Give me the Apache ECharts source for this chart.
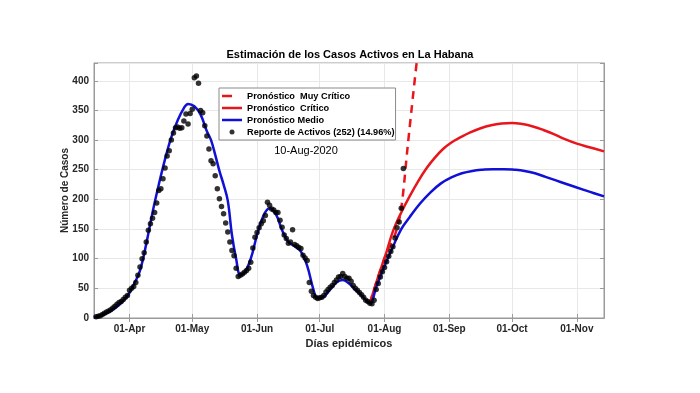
<!DOCTYPE html>
<html><head><meta charset="utf-8">
<script src="https://cdn.jsdelivr.net/npm/echarts@6/dist/echarts.min.js"></script>
<style>html,body{margin:0;padding:0;background:#fff}#c{width:700px;height:393px}</style>
</head><body><div id="c"></div>
<script>
// ---- axis range and ticks ----
const axisStart = '2020-03-15';
const axisEnd = '2020-11-14';
const monthNames = ['Jan','Feb','Mar','Apr','May','Jun','Jul','Aug','Sep','Oct','Nov','Dec'];
const yTickValues = [0, 50, 100, 150, 200, 250, 300, 350, 400];
const yMax = 430;

// ---- daily reported active cases (from 2020-03-16) ----
const reportStart = '2020-03-16';
const reportValues = [
  2, 3, 4, 6, 8, 10, 12, 14, 17, 20, 23, 26, 28, 31, 35, 38,
  47, 50, 53, 60, 72, 86, 100, 110, 128, 148, 159, 168, 178, 194, 215, 218,
  235, 253, 273, 282, 300, 312, 321, 322, 320, 321, 332, 344, 327, 345,
  352, 405, 408, 396, 350, 346, 324, 307, 285, 265, 260, 240, 218, 201,
  188, 176, 160, 145, 128, 114, 105, 84, 70, 72, 74, 77, 80, 84, 94, 118, 136,
  144, 152, 159, 164, 173, 195, 190, 184, 182, 178, 178, 165, 153, 140, 134,
  126, 128, 149, 124, 122, 119, 117, 106, 101, 97, 60, 45, 38, 35, 33,
  34, 35, 38, 44, 48, 52, 55, 60, 64, 69, 70, 75, 70, 67, 67, 62, 55, 50,
  47, 43, 39, 35, 30, 28, 25, 24, 30, 48, 58, 69, 78,
  85, 95, 104, 112, 120, 135, 152, 162, 185, 252
];

// ---- Pronóstico Medio (blue) ----
const medioDates = [
  '2020-03-15','2020-03-19','2020-03-23','2020-03-27','2020-03-31','2020-04-03','2020-04-06',
  '2020-04-09','2020-04-12','2020-04-15','2020-04-18','2020-04-21','2020-04-24','2020-04-27',
  '2020-04-29','2020-05-02','2020-05-05','2020-05-08','2020-05-10','2020-05-12','2020-05-14',
  '2020-05-16','2020-05-18','2020-05-20','2020-05-22','2020-05-24','2020-05-26','2020-05-29',
  '2020-06-01','2020-06-04','2020-06-07','2020-06-10','2020-06-13','2020-06-16','2020-06-19',
  '2020-06-22','2020-06-25','2020-06-28','2020-06-30','2020-07-03','2020-07-06','2020-07-09',
  '2020-07-12','2020-07-15','2020-07-18','2020-07-21','2020-07-25',
  '2020-07-28','2020-08-01','2020-08-05','2020-08-09','2020-08-13','2020-08-18','2020-08-23',
  '2020-08-28','2020-09-02','2020-09-07','2020-09-12','2020-09-17','2020-09-22','2020-09-27',
  '2020-10-02','2020-10-07','2020-10-12','2020-10-17','2020-10-22','2020-10-27','2020-11-01',
  '2020-11-07','2020-11-14'
];
const medioValues = [
  1, 5, 12, 22, 37, 56, 80,
  125, 178, 225, 268, 305, 333, 354,
  361, 357, 343, 315, 300, 275, 248,
  225, 198, 140, 100, 73, 76, 100,
  140, 172, 185, 175, 148, 128, 121,
  112, 88, 48, 33, 36, 48, 60,
  64, 58, 48, 38, 25,
  52, 88, 120, 150, 170, 193, 212,
  227, 237, 244, 248, 250, 251, 251,
  250, 248, 244, 238, 232, 226, 220,
  213, 205
];

// ---- Pronóstico Crítico (red) ----
const criticoDates = [
  '2020-07-25','2020-07-29','2020-08-02','2020-08-05','2020-08-09','2020-08-13','2020-08-17',
  '2020-08-21','2020-08-25','2020-08-29','2020-09-02','2020-09-06','2020-09-11','2020-09-16',
  '2020-09-21','2020-09-26','2020-10-01','2020-10-06','2020-10-11','2020-10-16','2020-10-21',
  '2020-10-26','2020-11-01','2020-11-07','2020-11-14'
];
const criticoValues = [
  25, 70, 112, 146, 178, 205, 230,
  252, 270, 285, 296, 304, 313, 320,
  325, 328, 329, 327, 323, 317, 310,
  302, 294, 288, 281
];

// ---- Pronóstico Muy Crítico (red dashed) ----
const muyCriticoDates = [
  '2020-07-25','2020-07-29','2020-08-02','2020-08-06','2020-08-09','2020-08-12','2020-08-15','2020-08-17'
];
const muyCriticoValues = [25, 70, 110, 140, 185, 287, 387, 450];

// ---- build helpers ----
function isoDay(t) { return new Date(t).toISOString().slice(0, 10); }
function dayRange(a, b) {
  const out = []; let t = Date.parse(a + 'T00:00:00Z'); const e = Date.parse(b + 'T00:00:00Z');
  while (t <= e) { out.push(isoDay(t)); t += 86400000; }
  return out;
}
const categories = dayRange(axisStart, axisEnd);
const reportDates = categories.slice(categories.indexOf(reportStart), categories.indexOf(reportStart) + reportValues.length);
const pairs = (d, v) => d.map((x, i) => [x, v[i]]);
const isMonthStart = (i, v) => v.slice(8, 10) === '01';
const fmtDate = v => v.slice(8, 10) + '-' + monthNames[+v.slice(5, 7) - 1];

const FONT = "'Liberation Sans', Arial, sans-serif";
const RED = '#e8161c', BLUE = '#1010d6';
const AXIS_COLOR = '#9a9a9a', GRID_COLOR = '#e8e8e8';
const ICON_SOLID = 'path://M0,0H20V2.5H0Z';
const ICON_DASH = 'path://M0,0H10V2.5H0Z M20,0L20,2.5';

const chart = echarts.init(document.getElementById('c'), null, { renderer: 'canvas' });
chart.setOption({
  animation: false,
  backgroundColor: '#fff',
  textStyle: { fontFamily: FONT },
  title: {
    text: 'Estimación de los Casos Activos en La Habana',
    left: 'center', top: 49, padding: 0,
    textStyle: { fontSize: 11, fontWeight: 'bold', color: '#000', fontFamily: FONT }
  },
  grid: { left: 94, right: 96, top: 63, bottom: 75, show: true, borderColor: AXIS_COLOR, borderWidth: 1 },
  legend: {
    orient: 'vertical', left: 219, top: 88,
    padding: [2, 1, 2, 3], itemGap: 0, itemWidth: 20, itemHeight: 5,
    backgroundColor: '#fff', borderColor: '#8a8a8a', borderWidth: 1,
    itemStyle: { borderWidth: 0 },
    textStyle: { fontSize: 9.2, fontWeight: 'bold', color: '#000', fontFamily: FONT, lineHeight: 12 },
    data: [
      { name: 'Pronóstico  Muy Crítico', icon: ICON_DASH },
      { name: 'Pronóstico  Crítico', icon: ICON_SOLID },
      { name: 'Pronóstico Medio', icon: ICON_SOLID },
      { name: 'Reporte de Activos (252) (14.96%)', icon: 'circle' }
    ]
  },
  xAxis: [{
    type: 'category', data: categories, boundaryGap: false,
    name: 'Días epidémicos', nameLocation: 'middle', nameGap: 19,
    nameTextStyle: { fontSize: 11, fontWeight: 'bold', color: '#262626', fontFamily: FONT },
    axisLine: { lineStyle: { color: AXIS_COLOR } },
    axisTick: { inside: true, length: 4, interval: isMonthStart, lineStyle: { color: AXIS_COLOR } },
    axisLabel: { interval: isMonthStart, formatter: fmtDate, fontSize: 10, fontWeight: 'bold', color: '#262626', margin: 6, fontFamily: FONT },
    splitLine: { show: true, interval: isMonthStart, lineStyle: { color: GRID_COLOR } }
  }, {
    type: 'category', data: categories, boundaryGap: false, position: 'top',
    axisLine: { lineStyle: { color: AXIS_COLOR } },
    axisTick: { inside: true, length: 4, interval: isMonthStart, lineStyle: { color: AXIS_COLOR } },
    axisLabel: { show: false }, splitLine: { show: false }
  }],
  yAxis: [{
    type: 'value', min: 0, max: yMax, interval: 50,
    name: 'Número de Casos', nameLocation: 'middle', nameGap: 24, nameMoveOverlap: false,
    nameTextStyle: { fontSize: 10, fontWeight: 'bold', color: '#262626', fontFamily: FONT },
    axisLine: { show: true, lineStyle: { color: AXIS_COLOR } },
    axisTick: { show: true, inside: true, length: 4, lineStyle: { color: AXIS_COLOR } },
    axisLabel: { fontSize: 10, fontWeight: 'bold', color: '#262626', margin: 5, fontFamily: FONT,
      formatter: v => yTickValues.includes(v) ? String(v) : '' },
    splitLine: { show: true, lineStyle: { color: GRID_COLOR } }
  }, {
    type: 'value', min: 0, max: yMax, interval: 50, position: 'right',
    axisLine: { show: true, lineStyle: { color: AXIS_COLOR } },
    axisTick: { show: true, inside: true, length: 4, lineStyle: { color: AXIS_COLOR } },
    axisLabel: { show: false }, splitLine: { show: false }
  }],
  graphic: [{
    type: 'text', x: 306, y: 151,
    style: { text: '10-Aug-2020', fontSize: 11, fontFamily: FONT, fill: '#000', align: 'center', verticalAlign: 'middle' }
  }],
  series: [
    { name: 'Pronóstico  Muy Crítico', type: 'line', data: pairs(muyCriticoDates, muyCriticoValues),
      smooth: 0.3, symbol: 'none', lineStyle: { color: RED, width: 2.5, type: [8, 6] }, itemStyle: { color: RED }, z: 3 },
    { name: 'Pronóstico  Crítico', type: 'line', data: pairs(criticoDates, criticoValues),
      smooth: 0.4, symbol: 'none', lineStyle: { color: RED, width: 2.5 }, itemStyle: { color: RED }, z: 3 },
    { name: 'Pronóstico Medio', type: 'line', data: pairs(medioDates, medioValues),
      smooth: 0.4, symbol: 'none', lineStyle: { color: BLUE, width: 2.5 }, itemStyle: { color: BLUE }, z: 4 },
    { name: 'Reporte de Activos (252) (14.96%)', type: 'scatter', data: pairs(reportDates, reportValues),
      symbol: 'circle', symbolSize: 5.5, itemStyle: { color: '#000' }, z: 5 }
  ]
});
</script>
</body></html>
